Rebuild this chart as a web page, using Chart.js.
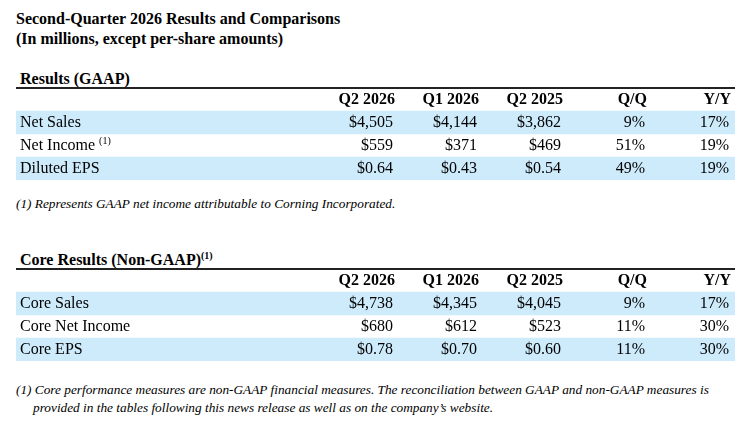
<!DOCTYPE html>
<html>
<head>
<meta charset="utf-8">
<script src="https://cdn.jsdelivr.net/npm/chart.js@4.4.1/dist/chart.umd.min.js"></script>
<style>
  html, body { margin: 0; padding: 0; background: #fff; }
  body { width: 747px; height: 424px; position: relative; overflow: hidden;
         font-family: "Liberation Serif", "Times New Roman", serif; color: #000; }
  .abs { position: absolute; }
  #title { left: 16px; top: 9px; font-weight: bold; font-size: 16px; line-height: 20px; }
  .section { left: 20px; font-weight: bold; font-size: 16px; line-height: 20px; }
  .section sup { font-size: 10px; line-height: 0; vertical-align: 6px; }
  .note { left: 16px; font-style: italic; font-size: 13.3px; line-height: 18px; }
  .tbl { left: 16px; width: 719px; height: 94px; }
</style>
</head>
<body>
<div id="title" class="abs">Second-Quarter 2026 Results and Comparisons<br>(In millions, except per-share amounts)</div>

<div class="abs section" style="top:69px">Results (GAAP)</div>
<div class="abs tbl" style="top:86px"><canvas id="gaapChart"></canvas></div>
<div class="abs note" style="top:195px">(1) Represents GAAP net income attributable to Corning Incorporated.</div>

<div class="abs section" style="top:250px">Core Results (Non-GAAP)<sup>(1)</sup></div>
<div class="abs tbl" style="top:267px"><canvas id="coreChart"></canvas></div>
<div class="abs note" style="top:381px">(1) Core performance measures are non-GAAP financial measures. The reconciliation between GAAP and non-GAAP measures is<br><span style="padding-left:17px">provided in the tables following this news release as well as on the company’s website.</span></div>

<script>
// column headers
var columns = ['Q2 2026', 'Q1 2026', 'Q2 2025', 'Q/Q', 'Y/Y'];

// GAAP table
var gaapRows = ['Net Sales', 'Net Income', 'Diluted EPS'];
var gaapNotes = ['', '(1)', ''];
var gaapKinds = ['usd', 'usd', 'eps'];
var gaapQ2_2026 = [4505, 559, 0.64];
var gaapQ1_2026 = [4144, 371, 0.43];
var gaapQ2_2025 = [3862, 469, 0.54];
var gaapQoQ = [9, 51, 49];
var gaapYoY = [17, 19, 19];

// Core (non-GAAP) table
var coreRows = ['Core Sales', 'Core Net Income', 'Core EPS'];
var coreNotes = ['', '', ''];
var coreKinds = ['usd', 'usd', 'eps'];
var coreQ2_2026 = [4738, 680, 0.78];
var coreQ1_2026 = [4345, 612, 0.70];
var coreQ2_2025 = [4045, 523, 0.60];
var coreQoQ = [9, 11, 11];
var coreYoY = [17, 30, 30];

var FONT = '"Liberation Serif", "Times New Roman", serif';
var SHADE = '#cdebfb';
var COL_PITCH = 84;

function fmtMoney(v, kind) {
    if (kind === 'eps') return '$' + v.toFixed(2);
    return '$' + v.toLocaleString('en-US');
}

// draws header and cell text on the row positions of the y scale
var cellText = {
    id: 'cellText',
    afterDatasetsDraw: function(chart, args, opts) {
        var ctx = chart.ctx;
        var yScale = chart.scales.y;
        var area = chart.chartArea;
        var lastRight = area.right - 4;
        ctx.save();
        ctx.fillStyle = '#000';
        ctx.textBaseline = 'middle';

        // header row
        var yh = yScale.getPixelForValue(0);
        ctx.font = 'bold 16px ' + FONT;
        ctx.textAlign = 'right';
        columns.forEach(function(c, j) {
            ctx.fillText(c, lastRight - (columns.length - 1 - j) * COL_PITCH, yh);
        });

        // body rows
        opts.rows.forEach(function(label, i) {
            var y = yScale.getPixelForValue(i + 1);
            ctx.font = '16px ' + FONT;
            ctx.textAlign = 'left';
            ctx.fillText(label, area.left + 4, y);
            if (opts.notes[i]) {
                var w = ctx.measureText(label + ' ').width;
                ctx.font = '10px ' + FONT;
                ctx.fillText(opts.notes[i], area.left + 4 + w, y - 4);
                ctx.font = '16px ' + FONT;
            }
            ctx.textAlign = 'right';
            var cells = [
                fmtMoney(opts.cols[0][i], opts.kinds[i]),
                fmtMoney(opts.cols[1][i], opts.kinds[i]),
                fmtMoney(opts.cols[2][i], opts.kinds[i]),
                opts.cols[3][i] + '%',
                opts.cols[4][i] + '%'
            ];
            cells.forEach(function(txt, j) {
                ctx.fillText(txt, lastRight - 2 - (cells.length - 1 - j) * COL_PITCH, y);
            });
        });
        ctx.restore();
    }
};

function makeTable(canvasId, rows, notes, kinds, cols) {
    var labels = ['header'].concat(rows);
    return new Chart(document.getElementById(canvasId), {
        type: 'bar',
        data: {
            labels: labels,
            datasets: [{
                data: labels.map(function() { return 1; }),
                backgroundColor: function(c) { return c.dataIndex % 2 === 1 ? SHADE : 'rgba(0,0,0,0)'; },
                borderWidth: 0,
                barPercentage: 1,
                categoryPercentage: 1
            }]
        },
        options: {
            indexAxis: 'y',
            responsive: true,
            maintainAspectRatio: false,
            animation: false,
            layout: { padding: { top: 2, left: 0, right: 0, bottom: 0 } },
            plugins: {
                legend: { display: false },
                tooltip: { enabled: false },
                cellText: { rows: rows, notes: notes, kinds: kinds, cols: cols }
            },
            scales: {
                x: {
                    type: 'linear',
                    position: 'top',
                    min: 0,
                    max: 1,
                    ticks: { display: false },
                    grid: { display: false, drawTicks: false },
                    border: { display: true, color: '#222', width: 2 }
                },
                y: {
                    type: 'category',
                    display: false
                }
            }
        },
        plugins: [cellText]
    });
}

makeTable('gaapChart', gaapRows, gaapNotes, gaapKinds,
    [gaapQ2_2026, gaapQ1_2026, gaapQ2_2025, gaapQoQ, gaapYoY]);
makeTable('coreChart', coreRows, coreNotes, coreKinds,
    [coreQ2_2026, coreQ1_2026, coreQ2_2025, coreQoQ, coreYoY]);
</script>
</body>
</html>
